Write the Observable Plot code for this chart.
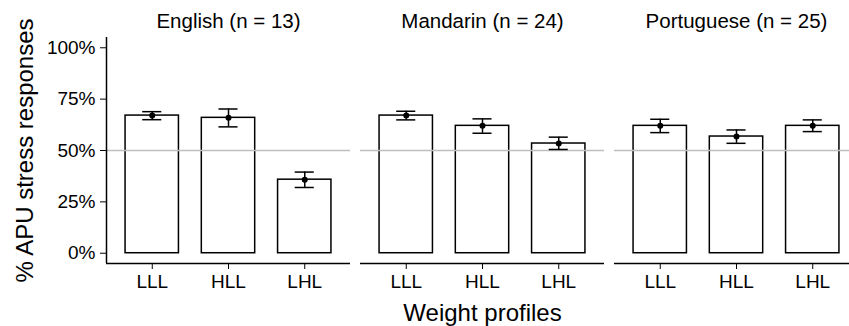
<!DOCTYPE html>
<html><head><meta charset="utf-8">
<script src="https://cdn.jsdelivr.net/npm/d3@7"></script>
<script src="https://cdn.jsdelivr.net/npm/@observablehq/plot@0.6"></script>
<style>
html,body{margin:0;padding:0;background:#fff;overflow:hidden;}
#chart{width:849px;height:326px;overflow:hidden;}
#chart svg{display:block;max-width:none !important;}
</style></head><body><div id="chart"></div>
<script>
const languages = ["English", "Mandarin", "Portuguese"];
const participants = [13, 24, 25];
const profiles = ["LLL", "HLL", "LHL"];
const meanEnglish = [0.670, 0.659, 0.358];
const lowEnglish = [0.650, 0.615, 0.320];
const highEnglish = [0.689, 0.702, 0.395];
const meanMandarin = [0.670, 0.620, 0.534];
const lowMandarin = [0.649, 0.584, 0.505];
const highMandarin = [0.691, 0.654, 0.565];
const meanPortuguese = [0.620, 0.568, 0.620];
const lowPortuguese = [0.587, 0.535, 0.592];
const highPortuguese = [0.652, 0.600, 0.649];
const yTicks = [0, 0.25, 0.5, 0.75, 1];
const chance = 0.5;
const yTitle = "% APU stress responses";
const xTitle = "Weight profiles";

const means = [meanEnglish, meanMandarin, meanPortuguese];
const lows = [lowEnglish, lowMandarin, lowPortuguese];
const highs = [highEnglish, highMandarin, highPortuguese];
const rows = [];
languages.forEach((lang, li) => profiles.forEach((p, pi) => rows.push({
  lang, profile: p, pos: pi + 1, mean: means[li][pi], lo: lows[li][pi], hi: highs[li][pi]
})));

const xDomain = [0.4, 3.6];
const yDomain = [-0.05, 1.05];
const barHalf = 0.35, capHalf = 0.125;
const font = "'Liberation Sans', Arial, Helvetica, sans-serif";

const plot = Plot.plot({
  width: 870, height: 326,
  marginLeft: 105, marginRight: 12, marginTop: 37, marginBottom: 63,
  style: {fontFamily: font, background: "white", color: "black"},
  fx: {domain: languages, paddingInner: 0.04, paddingOuter: 0},
  x: {domain: xDomain},
  y: {domain: yDomain},
  marks: [
    Plot.axisFx({anchor: "top", tickSize: 0, tickPadding: 10, label: null, fontSize: 20.5,
      tickFormat: l => `${l} (n = ${participants[languages.indexOf(l)]})`}),
    Plot.axisY({ticks: yTicks, tickFormat: d3.format(".0%"), tickSize: 6, tickPadding: 5, fontSize: 19, label: null}),
    Plot.axisX({ticks: [1, 2, 3], tickFormat: i => profiles[i - 1], tickSize: 6, tickPadding: 5, fontSize: 19, label: null}),
    Plot.rect(rows, {fx: "lang", x1: d => d.pos - barHalf, x2: d => d.pos + barHalf, y1: 0, y2: "mean",
      fill: "white", stroke: "black", strokeWidth: 1.5}),
    Plot.ruleY([chance], {stroke: "#bebebe", strokeWidth: 1.5}),
    Plot.ruleX(rows, {fx: "lang", x: "pos", y1: "lo", y2: "hi", stroke: "black", strokeWidth: 1.5}),
    Plot.ruleY(rows, {fx: "lang", y: "lo", x1: d => d.pos - capHalf, x2: d => d.pos + capHalf, stroke: "black", strokeWidth: 1.5}),
    Plot.ruleY(rows, {fx: "lang", y: "hi", x1: d => d.pos - capHalf, x2: d => d.pos + capHalf, stroke: "black", strokeWidth: 1.5}),
    Plot.dot(rows, {fx: "lang", x: "pos", y: "mean", r: 3, fill: "black", stroke: "none"}),
    Plot.ruleY([yDomain[0]], {stroke: "black", strokeWidth: 1.5}),
    Plot.ruleX([{lang: languages[0]}], {fx: "lang", x: () => xDomain[0], y1: yDomain[0], y2: yDomain[1], stroke: "black", strokeWidth: 1.5}),
    Plot.text([yTitle], {fx: () => languages[0], frameAnchor: "left", textAnchor: "middle", rotate: -90, dx: -81, fontSize: 24, text: d => d}),
    Plot.text([xTitle], {fx: () => languages[1], frameAnchor: "bottom", dy: 57, fontSize: 24, text: d => d})
  ]
});
document.getElementById("chart").appendChild(plot);
</script></body></html>
